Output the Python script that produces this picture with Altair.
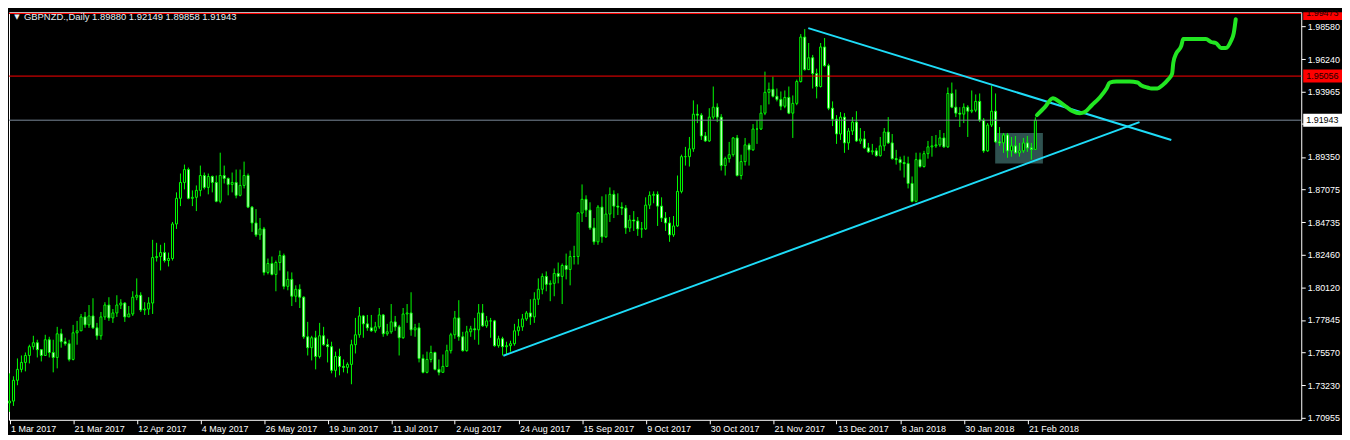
import altair as alt
import pandas as pd

# ---------------- data ----------------
date_labels = ["1 Mar 2017", "21 Mar 2017", "12 Apr 2017", "4 May 2017", "26 May 2017",
               "19 Jun 2017", "11 Jul 2017", "2 Aug 2017", "24 Aug 2017", "15 Sep 2017",
               "9 Oct 2017", "30 Oct 2017", "21 Nov 2017", "13 Dec 2017", "8 Jan 2018",
               "30 Jan 2018", "21 Feb 2018"]
tick_bars = [0, 16, 32, 48, 64, 80, 96, 112, 128, 144, 160, 176, 192, 208, 224, 240, 256]

price_ticks = [1.98580, 1.96240, 1.93965, 1.91690, 1.89350, 1.87075, 1.84735,
               1.82460, 1.80120, 1.77845, 1.75570, 1.73230, 1.70955]
hidden_tick = 1.91690  # covered by the bid-price box in the reference

first_open = 1.7199
close = [
    1.7212, 1.7359, 1.7436, 1.7485, 1.7534, 1.7596, 1.7624, 1.7575, 1.7534, 1.7645,
    1.7555, 1.7520, 1.7687, 1.7631, 1.7617, 1.7506, 1.7694, 1.7708, 1.7806, 1.7750,
    1.7813, 1.7729, 1.7673, 1.7806, 1.7890, 1.7799, 1.7834, 1.7890, 1.7904, 1.7806,
    1.7827, 1.7945, 1.7959, 1.7855, 1.7862, 1.7904, 1.8225, 1.8232, 1.8260, 1.8204,
    1.8218, 1.8462, 1.8643, 1.8755, 1.8846, 1.8643, 1.8650, 1.8699, 1.8804, 1.8720,
    1.8797, 1.8755, 1.8622, 1.8804, 1.8783, 1.8741, 1.8755, 1.8664, 1.8734, 1.8804,
    1.8581, 1.8469, 1.8385, 1.8427, 1.8120, 1.8183, 1.8106, 1.8190, 1.8239, 1.8022,
    1.8071, 1.7952, 1.8001, 1.7945, 1.7666, 1.7589, 1.7659, 1.7527, 1.7673, 1.7610,
    1.7596, 1.7429, 1.7527, 1.7457, 1.7450, 1.7471, 1.7610, 1.7680, 1.7813, 1.7757,
    1.7729, 1.7708, 1.7736, 1.7820, 1.7687, 1.7701, 1.7771, 1.7736, 1.7659, 1.7827,
    1.7834, 1.7715, 1.7729, 1.7513, 1.7415, 1.7506, 1.7555, 1.7436, 1.7415, 1.7457,
    1.7568, 1.7680, 1.7799, 1.7666, 1.7568, 1.7701, 1.7722, 1.7715, 1.7834, 1.7743,
    1.7778, 1.7778, 1.7603, 1.7652, 1.7596, 1.7603, 1.7617, 1.7708, 1.7736, 1.7792,
    1.7834, 1.7806, 1.7931, 1.8001, 1.8092, 1.8036, 1.8043, 1.8113, 1.8092, 1.8169,
    1.8141, 1.8232, 1.8232, 1.8539, 1.8636, 1.8560, 1.8434, 1.8336, 1.8581, 1.8371,
    1.8532, 1.8671, 1.8588, 1.8581, 1.8574, 1.8434, 1.8490, 1.8483, 1.8427, 1.8427,
    1.8595, 1.8664, 1.8671, 1.8588, 1.8504, 1.8469, 1.8385, 1.8448, 1.8692, 1.8937,
    1.8937, 1.8992, 1.9237, 1.9230, 1.9083, 1.9048, 1.9216, 1.9286, 1.9216, 1.8874,
    1.8923, 1.8951, 1.9069, 1.8804, 1.8902, 1.9020, 1.8985, 1.9132, 1.9132, 1.9244,
    1.9391, 1.9412, 1.9363, 1.9341, 1.9293, 1.9355, 1.9244, 1.9313, 1.9467, 1.9781,
    1.9551, 1.9635, 1.9523, 1.9432, 1.9711, 1.9579, 1.9279, 1.9202, 1.9097, 1.9216,
    1.9034, 1.9118, 1.9181, 1.9048, 1.9062, 1.8999, 1.8971, 1.8978, 1.8944, 1.9013,
    1.9111, 1.9034, 1.8923, 1.8916, 1.8895, 1.8888, 1.8748, 1.8622, 1.8916, 1.8867,
    1.8958, 1.9006, 1.9013, 1.9020, 1.9069, 1.9006, 1.9383, 1.9286, 1.9244, 1.9237,
    1.9286, 1.9258, 1.9265, 1.9327, 1.9195, 1.8978, 1.9160, 1.9258, 1.9041, 1.9034,
    1.9090, 1.8978, 1.9013, 1.8964, 1.8978, 1.9034, 1.8999, 1.8988, 1.91943,
]
high = [
    1.7408, 1.7387, 1.7513, 1.7534, 1.7555, 1.7610, 1.7673, 1.7645, 1.7561, 1.7680,
    1.7666, 1.7645, 1.7736, 1.7722, 1.7659, 1.7645, 1.7750, 1.7778, 1.7827, 1.7841,
    1.7890, 1.7938, 1.7764, 1.7841, 1.7910, 1.7945, 1.7862, 1.7959, 1.7931, 1.7910,
    1.7883, 1.7987, 1.8078, 1.7980, 1.7910, 1.7945, 1.8350, 1.8329, 1.8315, 1.8329,
    1.8260, 1.8476, 1.8685, 1.8818, 1.8881, 1.8860, 1.8699, 1.8734, 1.8874, 1.8825,
    1.8818, 1.8804, 1.8804, 1.8965, 1.8874, 1.8790, 1.8825, 1.8846, 1.8846, 1.8902,
    1.8818, 1.8588, 1.8567, 1.8504, 1.8441, 1.8218, 1.8232, 1.8204, 1.8274, 1.8253,
    1.8127, 1.8120, 1.8029, 1.8036, 1.7952, 1.7771, 1.7673, 1.7708, 1.7764, 1.7736,
    1.7652, 1.7631, 1.7561, 1.7582, 1.7506, 1.7485, 1.7645, 1.7799, 1.7876, 1.7820,
    1.7820, 1.7820, 1.7771, 1.7869, 1.7827, 1.7757, 1.7897, 1.7813, 1.7750, 1.7869,
    1.7897, 1.7980, 1.7757, 1.7764, 1.7541, 1.7561, 1.7603, 1.7561, 1.7506, 1.7541,
    1.7610, 1.7694, 1.7848, 1.7924, 1.7701, 1.7743, 1.7743, 1.7799, 1.7897, 1.7897,
    1.7813, 1.7799, 1.7785, 1.7673, 1.7666, 1.7631, 1.7638, 1.7757, 1.7792, 1.7827,
    1.7848, 1.7931, 1.7980, 1.8078, 1.8113, 1.8127, 1.8064, 1.8148, 1.8190, 1.8183,
    1.8253, 1.8274, 1.8308, 1.8546, 1.8741, 1.8664, 1.8615, 1.8504, 1.8595, 1.8657,
    1.8671, 1.8720, 1.8699, 1.8678, 1.8615, 1.8595, 1.8525, 1.8553, 1.8511, 1.8476,
    1.8650, 1.8692, 1.8692, 1.8692, 1.8650, 1.8546, 1.8511, 1.8518, 1.8804, 1.8951,
    1.9006, 1.9076, 1.9334, 1.9306, 1.9244, 1.9111, 1.9279, 1.9432, 1.9313, 1.9237,
    1.8937, 1.9041, 1.9076, 1.9090, 1.8951, 1.9069, 1.9034, 1.9167, 1.9195, 1.9300,
    1.9537, 1.9460, 1.9502, 1.9418, 1.9397, 1.9404, 1.9432, 1.9369, 1.9481, 1.9802,
    1.9837, 1.9739, 1.9655, 1.9558, 1.9739, 1.9774, 1.9593, 1.9327, 1.9230, 1.9251,
    1.9244, 1.9139, 1.9216, 1.9258, 1.9139, 1.9118, 1.9034, 1.9027, 1.8999, 1.9076,
    1.9139, 1.9216, 1.9097, 1.8985, 1.8937, 1.8944, 1.8937, 1.8797, 1.8965, 1.8965,
    1.8978, 1.9048, 1.9083, 1.9090, 1.9125, 1.9104, 1.9425, 1.9460, 1.9411, 1.9286,
    1.9313, 1.9300, 1.9404, 1.9376, 1.9383, 1.9209, 1.9174, 1.9439, 1.9383, 1.9146,
    1.9104, 1.9104, 1.9076, 1.9083, 1.9034, 1.9069, 1.9083, 1.9034, 1.92149,
]
low = [
    1.7136, 1.7178, 1.7324, 1.7415, 1.7422, 1.7478, 1.7575, 1.7520, 1.7492, 1.7534,
    1.7520, 1.7415, 1.7443, 1.7589, 1.7603, 1.7492, 1.7499, 1.7610, 1.7708, 1.7729,
    1.7729, 1.7722, 1.7645, 1.7645, 1.7785, 1.7778, 1.7764, 1.7806, 1.7862, 1.7771,
    1.7806, 1.7813, 1.7924, 1.7841, 1.7820, 1.7820, 1.7827, 1.8197, 1.8134, 1.8190,
    1.8162, 1.8204, 1.8427, 1.8588, 1.8706, 1.8636, 1.8588, 1.8553, 1.8657, 1.8706,
    1.8671, 1.8685, 1.8615, 1.8608, 1.8748, 1.8664, 1.8685, 1.8643, 1.8657, 1.8713,
    1.8574, 1.8406, 1.8371, 1.8350, 1.8099, 1.8106, 1.8099, 1.7987, 1.8134, 1.8001,
    1.7994, 1.7883, 1.7910, 1.7869, 1.7652, 1.7534, 1.7499, 1.7436, 1.7513, 1.7603,
    1.7485, 1.7408, 1.7380, 1.7394, 1.7415, 1.7408, 1.7331, 1.7548, 1.7659, 1.7659,
    1.7708, 1.7701, 1.7694, 1.7722, 1.7666, 1.7673, 1.7687, 1.7708, 1.7534, 1.7652,
    1.7764, 1.7673, 1.7666, 1.7485, 1.7408, 1.7408, 1.7485, 1.7429, 1.7394, 1.7415,
    1.7457, 1.7548, 1.7652, 1.7638, 1.7561, 1.7561, 1.7666, 1.7645, 1.7610, 1.7736,
    1.7729, 1.7659, 1.7596, 1.7589, 1.7534, 1.7541, 1.7561, 1.7603, 1.7673, 1.7708,
    1.7778, 1.7750, 1.7764, 1.7890, 1.7966, 1.7987, 1.7917, 1.7952, 1.8043, 1.7897,
    1.8071, 1.8029, 1.8176, 1.8176, 1.8476, 1.8511, 1.8420, 1.8315, 1.8315, 1.8329,
    1.8364, 1.8476, 1.8504, 1.8525, 1.8525, 1.8392, 1.8406, 1.8413, 1.8378, 1.8364,
    1.8420, 1.8567, 1.8608, 1.8448, 1.8476, 1.8413, 1.8336, 1.8371, 1.8441, 1.8678,
    1.8874, 1.8867, 1.8971, 1.9174, 1.9055, 1.9041, 1.9041, 1.9202, 1.9181, 1.8839,
    1.8804, 1.8895, 1.8937, 1.8797, 1.8776, 1.8874, 1.8874, 1.8978, 1.9027, 1.9125,
    1.9230, 1.9306, 1.9355, 1.9327, 1.9265, 1.9279, 1.9237, 1.9069, 1.9300, 1.9460,
    1.9544, 1.9551, 1.9418, 1.9348, 1.9425, 1.9572, 1.9265, 1.9153, 1.9027, 1.9055,
    1.8964, 1.8985, 1.9090, 1.9041, 1.9027, 1.8992, 1.8964, 1.8951, 1.8937, 1.8937,
    1.8978, 1.9027, 1.8916, 1.8881, 1.8839, 1.8790, 1.8713, 1.8615, 1.8615, 1.8860,
    1.8860, 1.8923, 1.8937, 1.8999, 1.9006, 1.8999, 1.8999, 1.9279, 1.9216, 1.9146,
    1.9174, 1.9076, 1.9244, 1.9251, 1.9181, 1.8964, 1.8971, 1.9146, 1.9034, 1.9013,
    1.8964, 1.8929, 1.8937, 1.8957, 1.8937, 1.8964, 1.8971, 1.8916, 1.89858,
]

# horizontal lines (red levels) and bid line
level_prices = [1.99473, 1.95056]
level_labels = ["1.99473", "1.95056"]
bid_price = 1.91943
bid_label = "1.91943"

# trend lines: [bar_start, bar_end], [price_start, price_end]
upper_bars = [200.9, 292.2]
upper_prices = [1.9844, 1.9055]
lower_bars = [124.2, 284.2]
lower_prices = [1.7532, 1.9181]

# grey consolidation box
box_bars = [247.9, 259.9]
box_prices = [1.8888, 1.9104]

# hand-drawn green projection path
path_bars = [258.4, 260.4, 262.4, 264.2, 265.9, 267.4, 269.2, 270.4, 272.2, 274.2,
             275.9, 276.7, 278.4, 281.7, 283.7, 284.7, 286.2, 287.2, 288.7, 289.9,
             291.4, 292.4, 292.7, 293.4, 294.7, 295.2, 296.7, 300.9, 302.2, 303.4,
             304.7, 305.9, 307.2, 307.9, 308.4]
path_prices = [1.9230, 1.9286, 1.9349, 1.9321, 1.9286, 1.9258, 1.9244, 1.9251, 1.9300, 1.9355,
               1.9418, 1.9460, 1.9467, 1.9467, 1.9460, 1.9439, 1.9425, 1.9418, 1.9418, 1.9439,
               1.9481, 1.9523, 1.9600, 1.9663, 1.9718, 1.9767, 1.9767, 1.9767, 1.9746, 1.9739,
               1.9704, 1.9704, 1.9753, 1.9809, 1.9907]

header_text = "GBPNZD.,Daily  1.89880 1.92149 1.89858 1.91943"

# ---------------- layout / styles ----------------
W, H = 1300, 410
XD = [-0.125, 324.875]
YD = [1.7080, 1.9956]
LIME = "#00FF00"
FONT = "Liberation Sans"

n = len(close)
opens = [first_open] + close[:-1]
candles = pd.DataFrame({"i": list(range(n)), "open": opens, "high": high,
                        "low": low, "close": close})
candles["xl"] = candles["i"] - 0.25
candles["xr"] = candles["i"] + 0.25

label_js = "[" + ",".join("'%s'" % d for d in date_labels) + "]"
xaxis = alt.Axis(values=tick_bars, labelExpr=label_js + "[round(datum.value/16)]",
                 labelAlign="left", labelOffset=1, labelOverlap=False, labelFlush=False,
                 labelBound=False, title=None, tickSize=4, labelPadding=1)
yaxis = alt.Axis(orient="right", values=price_ticks, title=None,
                 labelExpr="abs(datum.value - %f) < 0.00001 ? '' : format(datum.value, '.5f')" % hidden_tick,
                 labelOverlap=False, labelFlush=False, tickSize=4, labelPadding=2)
xscale = alt.Scale(domain=XD, nice=False, zero=False)
yscale = alt.Scale(domain=YD, nice=False, zero=False)


def X(f):
    return alt.X(f, type="quantitative", scale=xscale, axis=xaxis)


def Y(f):
    return alt.Y(f, type="quantitative", scale=yscale, axis=yaxis)


rect_df = pd.DataFrame({"x0": [box_bars[0]], "x1": [box_bars[1]],
                        "p0": [box_prices[0]], "p1": [box_prices[1]]})
box = alt.Chart(rect_df).mark_rect(color="#2F5250").encode(
    x=X("x0"), x2="x1", y=Y("p0"), y2="p1")

wicks = alt.Chart(candles).mark_rule(color=LIME, strokeWidth=1).encode(
    x=X("i"), y=Y("low"), y2="high")

bodies = alt.Chart(candles).mark_rect(stroke=LIME, strokeWidth=1).encode(
    x=X("xl"), x2="xr", y=Y("open"), y2="close",
    fill=alt.condition("datum.close > datum.open", alt.value("#000000"), alt.value("#FFFFFF")))

lv_df = pd.DataFrame({"price": level_prices})
levels = alt.Chart(lv_df).mark_rule(color="#FF0000", strokeWidth=1).encode(y=Y("price"))

bid_df = pd.DataFrame({"price": [bid_price]})
bidline = alt.Chart(bid_df).mark_rule(color="#7A8898", strokeWidth=1).encode(y=Y("price"))

tl_df = pd.DataFrame({"b0": [upper_bars[0], lower_bars[0]], "b1": [upper_bars[1], lower_bars[1]],
                      "p0": [upper_prices[0], lower_prices[0]],
                      "p1": [upper_prices[1], lower_prices[1]]})
trend = alt.Chart(tl_df).mark_rule(color="#1EDCF8", strokeWidth=2).encode(
    x=X("b0"), x2="b1", y=Y("p0"), y2="p1")

path_df = pd.DataFrame({"b": path_bars, "p": path_prices, "o": list(range(len(path_bars)))})
path = alt.Chart(path_df).mark_line(color="#22E622", strokeWidth=4, strokeCap="round",
                                    strokeJoin="round", interpolate="monotone").encode(
    x=X("b"), y=Y("p"), order="o:Q")

half = 6.5 * (YD[1] - YD[0]) / H
lab_df = pd.DataFrame({
    "price": level_prices + [bid_price],
    "label": level_labels + [bid_label],
    "bg": ["#FF0000", "#FF0000", "#FFFFFF"],
    "fg": ["#220000", "#220000", "#000000"],
})
lab_df["lo"] = lab_df["price"] - half
lab_df["hi"] = (lab_df["price"] + half).clip(upper=YD[1])
lab_box = alt.Chart(lab_df).mark_rect().encode(
    x=alt.value(W + 2), x2=alt.value(W + 41), y=Y("lo"), y2="hi",
    fill=alt.Color("bg:N", scale=None))
lab_txt = alt.Chart(lab_df).mark_text(align="left", baseline="middle", font=FONT,
                                      fontSize=9).encode(
    x=alt.value(W + 5), y=Y("price"), text="label:N", color=alt.Color("fg:N", scale=None))

hdr_df = pd.DataFrame({"t": [header_text], "tri": ["\u25BC"]})
hdr_tri = alt.Chart(hdr_df).mark_text(align="center", baseline="middle", font="DejaVu Sans",
                                      fontSize=7, color="#E8EEF5").encode(
    x=alt.value(8), y=alt.value(5), text="tri:N")
hdr = alt.Chart(hdr_df).mark_text(align="left", baseline="middle", font=FONT, fontSize=9.5,
                                  color="#E8EEF5").encode(
    x=alt.value(15), y=alt.value(5), text="t:N")

chart = alt.layer(box, wicks, bodies, levels, bidline, trend, path, lab_box, lab_txt,
                  hdr_tri, hdr).properties(
    width=W, height=H, padding={"left": 0, "top": 0, "right": 0, "bottom": 0}
).configure(background="#000000").configure_view(
    stroke="#FFFFFF", strokeWidth=1, fill="#000000"
).configure_axis(
    grid=False, domain=False, labelColor="#FFFFFF", tickColor="#FFFFFF",
    labelFont=FONT, labelFontSize=9
)

chart.save("out.html", embed_options={"renderer": "svg", "actions": False})
